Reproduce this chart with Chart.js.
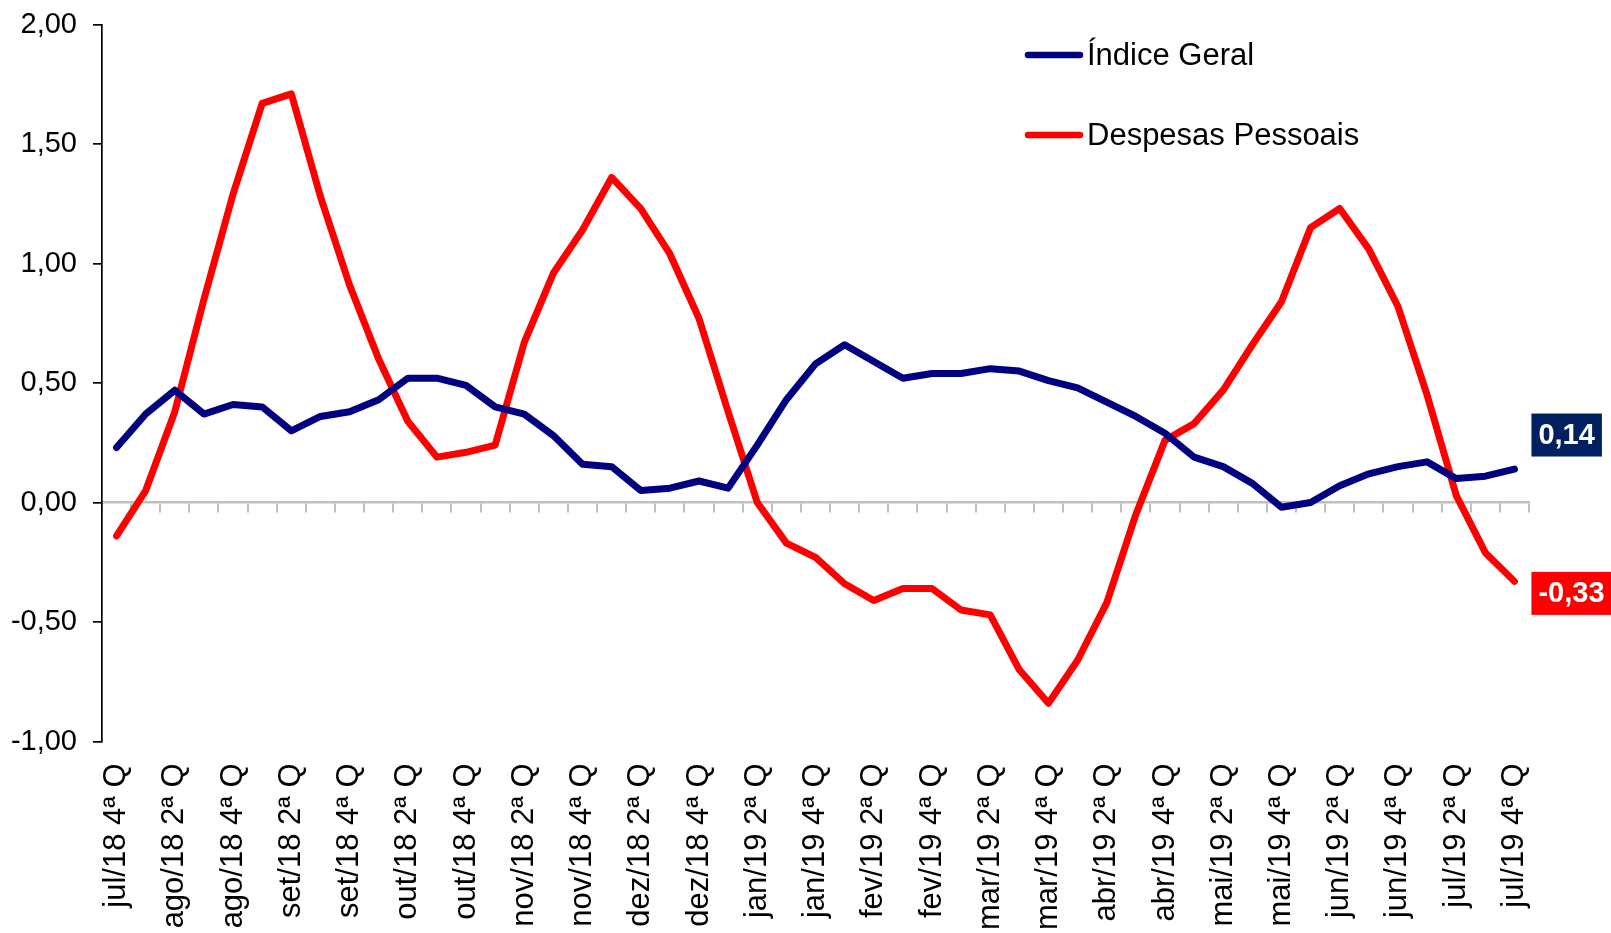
<!DOCTYPE html>
<html lang="pt">
<head>
<meta charset="utf-8">
<title>Índice Geral x Despesas Pessoais</title>
<script src="https://cdn.jsdelivr.net/npm/chart.js@4.4.1/dist/chart.umd.min.js"></script>
<style>
    html, body { margin: 0; padding: 0; background: #ffffff; }
    #wrap { position: relative; width: 1611px; height: 933px; }
</style>
</head>
<body>
<div id="wrap"><canvas id="chart"></canvas></div>
<script>
// -------------------------------------------------------------------------------------------------------------------------------
// Data
// -------------------------------------------------------------------------------------------------------------------------------

const categories = [
    'jul/18 4ª Q',
    'ago/18 1ª Q', 'ago/18 2ª Q', 'ago/18 3ª Q', 'ago/18 4ª Q',
    'set/18 1ª Q', 'set/18 2ª Q', 'set/18 3ª Q', 'set/18 4ª Q',
    'out/18 1ª Q', 'out/18 2ª Q', 'out/18 3ª Q', 'out/18 4ª Q',
    'nov/18 1ª Q', 'nov/18 2ª Q', 'nov/18 3ª Q', 'nov/18 4ª Q',
    'dez/18 1ª Q', 'dez/18 2ª Q', 'dez/18 3ª Q', 'dez/18 4ª Q',
    'jan/19 1ª Q', 'jan/19 2ª Q', 'jan/19 3ª Q', 'jan/19 4ª Q',
    'fev/19 1ª Q', 'fev/19 2ª Q', 'fev/19 3ª Q', 'fev/19 4ª Q',
    'mar/19 1ª Q', 'mar/19 2ª Q', 'mar/19 3ª Q', 'mar/19 4ª Q',
    'abr/19 1ª Q', 'abr/19 2ª Q', 'abr/19 3ª Q', 'abr/19 4ª Q',
    'mai/19 1ª Q', 'mai/19 2ª Q', 'mai/19 3ª Q', 'mai/19 4ª Q',
    'jun/19 1ª Q', 'jun/19 2ª Q', 'jun/19 3ª Q', 'jun/19 4ª Q',
    'jul/19 1ª Q', 'jul/19 2ª Q', 'jul/19 3ª Q', 'jul/19 4ª Q'
];

const indiceGeral = [
    0.23,
    0.37, 0.47, 0.37, 0.41,
    0.40, 0.30, 0.36, 0.38,
    0.43, 0.52, 0.52, 0.49,
    0.40, 0.37, 0.28, 0.16,
    0.15, 0.05, 0.06, 0.09,
    0.06, 0.24, 0.43, 0.58,
    0.66, 0.59, 0.52, 0.54,
    0.54, 0.56, 0.55, 0.51,
    0.48, 0.42, 0.36, 0.29,
    0.19, 0.15, 0.08, -0.02,
    0.00, 0.07, 0.12, 0.15,
    0.17, 0.10, 0.11, 0.14
];

const despesasPessoais = [
    -0.14,
    0.05, 0.38, 0.85, 1.29,
    1.67, 1.71, 1.28, 0.91,
    0.60, 0.34, 0.19, 0.21,
    0.24, 0.67, 0.96, 1.14,
    1.36, 1.23, 1.04, 0.77,
    0.38, 0.00, -0.17, -0.23,
    -0.34, -0.41, -0.36, -0.36,
    -0.45, -0.47, -0.70, -0.84,
    -0.66, -0.42, -0.05, 0.26,
    0.33, 0.47, 0.66, 0.84,
    1.15, 1.23, 1.06, 0.82,
    0.45, 0.03, -0.21, -0.33
];

const seriesNames = ['Índice Geral', 'Despesas Pessoais'];
const seriesColors = ['#000080', '#ff0000'];
const lastLabelColors = ['#002060', '#ff0000'];

const yMin = -1;
const yMax = 2;
const yStep = 0.5;

// -------------------------------------------------------------------------------------------------------------------------------
// Helpers / plugins
// -------------------------------------------------------------------------------------------------------------------------------

const fontFamily = "'Liberation Sans', Arial, Helvetica, sans-serif";
const decimal = (v) => v.toFixed(2).replace('.', ',');

// legend drawn inside the plot, top right
const insideLegend = {
    id: 'insideLegend',
    afterDraw(chart, args, opts) {
        const ctx = chart.ctx;
        ctx.save();
        ctx.font = '31px ' + fontFamily;
        ctx.textAlign = 'left';
        ctx.textBaseline = 'middle';
        chart.data.datasets.forEach((ds, i) => {
            const y = opts.top + i * opts.rowGap;
            ctx.strokeStyle = ds.borderColor;
            ctx.lineWidth = 6.5;
            ctx.lineCap = 'round';
            ctx.beginPath();
            ctx.moveTo(opts.left, y);
            ctx.lineTo(opts.left + opts.lineLength, y);
            ctx.stroke();
            ctx.fillStyle = '#000000';
            ctx.fillText(ds.label, opts.left + opts.lineLength + 7, y + 1);
        });
        ctx.restore();
    }
};

// boxed value label next to the last point of each series
const lastValueLabels = {
    id: 'lastValueLabels',
    afterDatasetsDraw(chart, args, opts) {
        const ctx = chart.ctx;
        ctx.save();
        ctx.font = 'bold 29px ' + fontFamily;
        ctx.textAlign = 'left';
        ctx.textBaseline = 'middle';
        chart.data.datasets.forEach((ds, i) => {
            const meta = chart.getDatasetMeta(i);
            const pt = meta.data[meta.data.length - 1];
            const text = decimal(ds.data[ds.data.length - 1]);
            const w = ctx.measureText(text).width + 14;
            const h = 43;
            const x = pt.x + 17;
            const yc = pt.y + opts.offsets[i];
            ctx.fillStyle = lastLabelColors[i];
            ctx.fillRect(x, yc - h / 2, w, h);
            ctx.fillStyle = '#ffffff';
            ctx.fillText(text, x + 7, yc + 1);
        });
        ctx.restore();
    }
};

// -------------------------------------------------------------------------------------------------------------------------------
// Chart
// -------------------------------------------------------------------------------------------------------------------------------

const lineStyle = {
    borderWidth: 7,
    pointRadius: 0,
    pointHoverRadius: 0,
    tension: 0,
    borderJoinStyle: 'round',
    borderCapStyle: 'round',
    fill: false
};

new Chart(document.getElementById('chart'), {
    type: 'line',
    data: {
        labels: categories,
        datasets: [
            { label: seriesNames[0], data: indiceGeral, borderColor: seriesColors[0], backgroundColor: seriesColors[0], ...lineStyle },
            { label: seriesNames[1], data: despesasPessoais, borderColor: seriesColors[1], backgroundColor: seriesColors[1], ...lineStyle }
        ]
    },
    options: {
        responsive: true,
        maintainAspectRatio: false,
        animation: false,
        layout: { padding: { top: 24.5, right: 82, bottom: 0, left: 0 } },
        plugins: {
            legend: { display: false },
            tooltip: { enabled: false },
            insideLegend: { left: 1028, top: 55, rowGap: 80, lineLength: 52 },
            lastValueLabels: { offsets: [-34, 12] }
        },
        scales: {
            x: {
                type: 'category',
                offset: true,
                grid: { display: false, drawTicks: false },
                border: { display: false },
                ticks: {
                    autoSkip: false,
                    minRotation: 90,
                    maxRotation: 90,
                    padding: 22,
                    color: '#000000',
                    font: { family: fontFamily, size: 31 },
                    callback(value, index) {
                        return index % 2 === 0 ? this.getLabelForValue(value) : '';
                    }
                },
                afterFit(scale) { scale.height = 191.5; }
            },
            xZero: {
                type: 'category',
                position: { y: 0 },
                offset: true,
                grid: {
                    offset: true,
                    drawOnChartArea: false,
                    drawTicks: true,
                    tickLength: 9,
                    color: '#bfbfbf',
                    lineWidth: 2
                },
                border: { display: true, color: '#bfbfbf', width: 2.5 },
                ticks: { display: false, autoSkip: false }
            },
            y: {
                min: yMin,
                max: yMax,
                grid: {
                    drawOnChartArea: false,
                    drawTicks: true,
                    tickLength: 9,
                    color: '#000000',
                    lineWidth: 1.7
                },
                border: { display: true, color: '#000000', width: 1.7 },
                ticks: {
                    stepSize: yStep,
                    padding: 16,
                    color: '#000000',
                    font: { family: fontFamily, size: 29 },
                    callback: (v) => decimal(v)
                },
                afterFit(scale) {
                    scale.width = 102;
                    scale.paddingTop = 0;
                }
            }
        }
    },
    plugins: [insideLegend, lastValueLabels]
});
</script>
</body>
</html>
